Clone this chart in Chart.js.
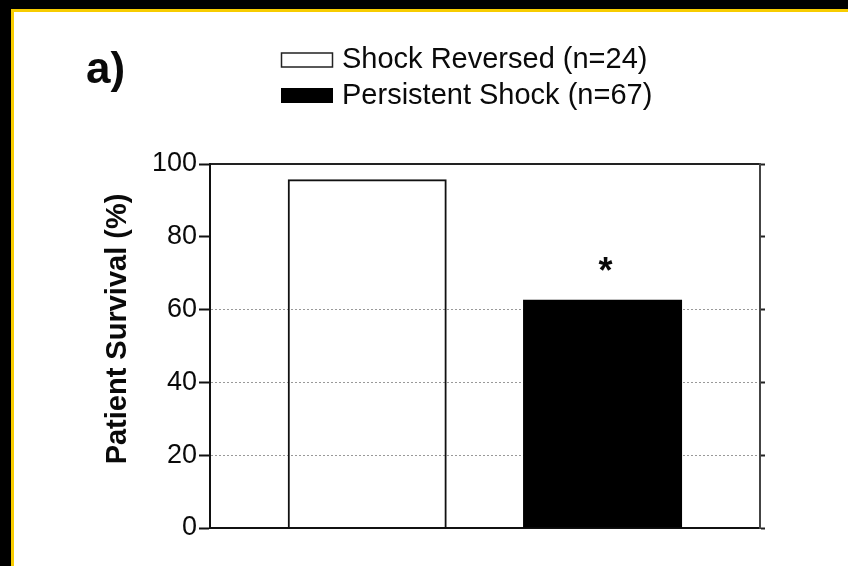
<!DOCTYPE html>
<html>
<head>
<meta charset="utf-8">
<script src="https://cdn.jsdelivr.net/npm/chart.js@4"></script>
<style>
  html, body { margin: 0; padding: 0; background: #000; }
  canvas { display: block; }
</style>
</head>
<body>
<canvas id="myChart" width="848" height="566"></canvas>
<script>
// data
const groups = ['Shock Reversed (n=24)', 'Persistent Shock (n=67)'];
const survival = [95.8, 62.7];
const marks = ['', '*'];
const yTicks = [0, 20, 40, 60, 80, 100];
const gridAt = [20, 40, 60];
const panelLabel = 'a)';
const yTitle = 'Patient Survival (%)';
const fills = ['rgba(0,0,0,0)', '#000'];

const FONT = '"Liberation Sans", Arial, Helvetica, sans-serif';

// black page, yellow rule, white sheet
const paper = {
  id: 'paper',
  beforeDraw(chart) {
    const c = chart.ctx;
    c.save();
    c.fillStyle = '#000';
    c.fillRect(0, 0, chart.width, chart.height);
    c.fillStyle = '#f7cc00';
    c.fillRect(11, 9, chart.width - 11, chart.height - 9);
    c.fillStyle = '#fff';
    c.fillRect(14, 12, chart.width - 14, chart.height - 12);
    c.restore();
  }
};

// panel label, axis title, legend, significance star
const extras = {
  id: 'extras',
  afterDraw(chart) {
    const c = chart.ctx;
    const ds = chart.data.datasets[0];
    c.save();
    c.fillStyle = '#0a0a0a';
    c.textAlign = 'left';
    c.textBaseline = 'alphabetic';
    c.font = 'bold 44px ' + FONT;
    c.fillText(panelLabel, 86, 83);

    c.save();
    c.translate(118, 329);
    c.rotate(-Math.PI / 2);
    c.font = 'bold 29px ' + FONT;
    c.textAlign = 'center';
    c.textBaseline = 'middle';
    c.fillText(yTitle, 0, 0);
    c.restore();

    c.font = '29px ' + FONT;
    c.textBaseline = 'middle';
    groups.forEach((g, i) => {
      const cy = 60 + i * 35.5;
      c.fillStyle = ds.backgroundColor[i];
      c.fillRect(281, cy - 7.5, 52, 15);
      if (ds.borderWidth[i]) {
        c.strokeStyle = '#222';
        c.lineWidth = 1.5;
        c.strokeRect(281.5, cy - 7, 51, 14);
      }
      c.fillStyle = '#0a0a0a';
      c.fillText(g, 342, cy);
    });

    const meta = chart.getDatasetMeta(0);
    c.font = 'bold 36px ' + FONT;
    c.textAlign = 'center';
    c.textBaseline = 'alphabetic';
    meta.data.forEach((bar, i) => {
      if (marks[i]) c.fillText(marks[i], bar.x + 3, bar.y - 17);
    });
    c.restore();
  }
};

new Chart(document.getElementById('myChart'), {
  type: 'bar',
  data: {
    datasets: [{
      label: 'Patient Survival',
      data: survival.map((v, i) => ({ x: i, y: v })),
      backgroundColor: fills,
      borderColor: '#111',
      borderWidth: [2, 0],
      borderSkipped: 'start',
      maxBarThickness: 159,
      grouped: false
    }]
  },
  options: {
    responsive: false,
    animation: false,
    layout: { padding: { left: 0, top: 164, right: 88, bottom: 38 } },
    plugins: { legend: { display: false }, tooltip: { enabled: false } },
    scales: {
      x: {
        type: 'linear', min: -0.668, max: 1.669, offset: false,
        afterBuildTicks: s => { s.ticks = survival.map((v, i) => ({ value: i })); },
        ticks: { display: false },
        grid: { display: false },
        border: { color: '#111', width: 2 },
        afterFit: s => { s.height = 0; }
      },
      xTop: {
        type: 'linear', axis: 'x', position: 'top', offset: false,
        ticks: { display: false },
        grid: { display: false },
        border: { color: '#222', width: 2 },
        afterFit: s => { s.height = 0; }
      },
      y: {
        min: 0, max: 100,
        afterBuildTicks: s => { s.ticks = yTicks.map(v => ({ value: v })); },
        ticks: { color: '#0a0a0a', font: { family: FONT, size: 27 }, padding: 2 },
        grid: {
          color: ctx => gridAt.includes(ctx.tick.value) ? '#999' : 'rgba(0,0,0,0)',
          lineWidth: 1,
          tickColor: '#111', tickWidth: 2, tickLength: 11
        },
        border: { color: '#111', width: 2, dash: [2, 2] },
        afterFit: s => { s.width = 210; }
      },
      yRight: {
        position: 'right', min: 0, max: 100,
        afterBuildTicks: s => { s.ticks = yTicks.map(v => ({ value: v })); },
        ticks: { display: false },
        grid: { drawOnChartArea: false, tickColor: '#222', tickWidth: 2, tickLength: 5 },
        border: { color: '#444', width: 2 },
        afterFit: s => { s.width = 0; }
      }
    }
  },
  plugins: [paper, extras]
});
</script>
</body>
</html>
